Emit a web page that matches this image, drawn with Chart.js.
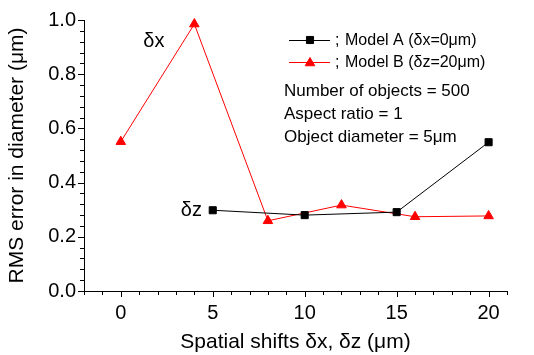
<!DOCTYPE html>
<html>
<head>
<meta charset="utf-8">
<script src="https://cdn.jsdelivr.net/npm/chart.js@4/dist/chart.umd.min.js"></script>
<style>
  html, body { margin: 0; padding: 0; background: #fff; }
  #wrap { width: 534px; height: 355px; }
</style>
</head>
<body>
<div id="wrap"><canvas id="chart" width="534" height="355"></canvas></div>
<script>
// data
const modelAX = [5, 10, 15, 20];
const modelAY = [0.298, 0.280, 0.291, 0.549];
const modelBX = [0, 4, 8, 12, 16, 20];
const modelBY = [0.551, 0.985, 0.259, 0.317, 0.274, 0.277];

const xTickValues = [0, 5, 10, 15, 20];
const yTickValues = [0, 0.2, 0.4, 0.6, 0.8, 1.0];

const legendLabels = ['; Model A (\u03b4x=0\u03bcm)', '; Model B (\u03b4z=20\u03bcm)'];
const infoLines = ['Number of objects = 500', 'Aspect ratio = 1', 'Object diameter = 5\u03bcm'];

const FONT = '"Liberation Sans", Arial, sans-serif';

// minor / major ticks drawn outward, like the original plot
const tickMarks = {
    id: 'tickMarks',
    afterDraw(chart) {
        const ctx = chart.ctx;
        const xs = chart.scales.x, ys = chart.scales.y;
        ctx.save();
        ctx.strokeStyle = '#000';
        ctx.lineWidth = 1;
        ctx.beginPath();
        for (let v = -2; v <= 21; v++) {
            const px = Math.round(xs.getPixelForValue(v)) + 0.5;
            const len = v % 5 === 0 ? 6 : 4;
            ctx.moveTo(px, ys.bottom);
            ctx.lineTo(px, ys.bottom + len);
        }
        for (let i = 0; i <= 25; i++) {
            const py = Math.round(ys.getPixelForValue(i * 0.04)) + 0.5;
            const len = i % 5 === 0 ? 6 : 4;
            ctx.moveTo(xs.left, py);
            ctx.lineTo(xs.left - len, py);
        }
        ctx.stroke();
        ctx.restore();
    }
};

// legend and notes inside the plot
const notes = {
    id: 'notes',
    afterDraw(chart) {
        const ctx = chart.ctx;
        const xs = chart.scales.x, ys = chart.scales.y;
        ctx.save();
        ctx.textBaseline = 'middle';

        const lx = 289, ly = [40, 62];
        chart.data.datasets.forEach((ds, i) => {
            ctx.strokeStyle = ds.borderColor;
            ctx.fillStyle = ds.backgroundColor;
            ctx.lineWidth = 1;
            ctx.beginPath();
            ctx.moveTo(lx, ly[i] + 0.5);
            ctx.lineTo(lx + 41, ly[i] + 0.5);
            ctx.stroke();
            Chart.helpers.drawPoint(ctx, {
                pointStyle: ds.pointStyle, radius: ds.pointRadius, borderWidth: 1
            }, lx + 21, ly[i] + (ds.pointStyle === 'triangle' ? 1 : 0));
            ctx.fillStyle = '#000';
            ctx.font = '16px ' + FONT;
            ctx.textAlign = 'left';
            ctx.fillText(';', lx + 46, ly[i] + 1);
            ctx.fillText(legendLabels[i].slice(2), lx + 56, ly[i] + 1);
        });

        ctx.fillStyle = '#000';
        ctx.font = '17px ' + FONT;
        infoLines.forEach((t, i) => ctx.fillText(t, 284, 91 + i * 23));

        ctx.font = '20px ' + FONT;
        ctx.textAlign = 'center';
        ctx.fillText('\u03b4x', xs.getPixelForValue(1.8), ys.getPixelForValue(0.92));
        ctx.fillText('\u03b4z', xs.getPixelForValue(3.84), ys.getPixelForValue(0.298));
        ctx.restore();
    }
};

new Chart(document.getElementById('chart'), {
    type: 'scatter',
    data: {
        datasets: [{
            label: 'Model A',
            data: modelAX.map((x, i) => ({ x, y: modelAY[i] })),
            showLine: true,
            borderColor: '#000',
            backgroundColor: '#000',
            borderWidth: 1,
            pointStyle: 'rect',
            pointRadius: 5,
            pointBorderWidth: 1
        }, {
            label: 'Model B',
            data: modelBX.map((x, i) => ({ x, y: modelBY[i] })),
            showLine: true,
            borderColor: '#ff0000',
            backgroundColor: '#ff0000',
            borderWidth: 1,
            pointStyle: 'triangle',
            pointRadius: 5.5,
            pointBorderWidth: 1
        }]
    },
    options: {
        responsive: false,
        animation: false,
        clip: false,
        layout: { padding: { top: 17, right: 27, left: 0, bottom: 0 } },
        plugins: { legend: { display: false }, tooltip: { enabled: false } },
        scales: {
            x: {
                type: 'linear',
                min: -2,
                max: 21,
                afterBuildTicks: s => { s.ticks = xTickValues.map(v => ({ value: v })); },
                afterFit: s => { s.height = 64; },
                grid: { drawOnChartArea: false, drawTicks: false },
                border: { color: '#000', width: 1 },
                ticks: {
                    color: '#000',
                    padding: 10,
                    maxRotation: 0,
                    font: { family: FONT, size: 20 }
                },
                title: {
                    display: true,
                    text: 'Spatial shifts \u03b4x, \u03b4z (\u03bcm)',
                    color: '#000',
                    padding: { top: 4, bottom: 0 },
                    font: { family: FONT, size: 21 }
                }
            },
            y: {
                min: 0,
                max: 1.0,
                afterBuildTicks: s => { s.ticks = yTickValues.map(v => ({ value: v })); },
                afterFit: s => { s.width = 84; },
                grid: { drawOnChartArea: false, drawTicks: false },
                border: { color: '#000', width: 1 },
                ticks: {
                    color: '#000',
                    padding: 8,
                    font: { family: FONT, size: 20 },
                    callback: v => v.toFixed(1)
                },
                title: {
                    display: true,
                    text: 'RMS error in diameter (\u03bcm)',
                    color: '#000',
                    padding: { top: 5, bottom: 0 },
                    font: { family: FONT, size: 21 }
                }
            }
        }
    },
    plugins: [tickMarks, notes]
});
</script>
</body>
</html>
